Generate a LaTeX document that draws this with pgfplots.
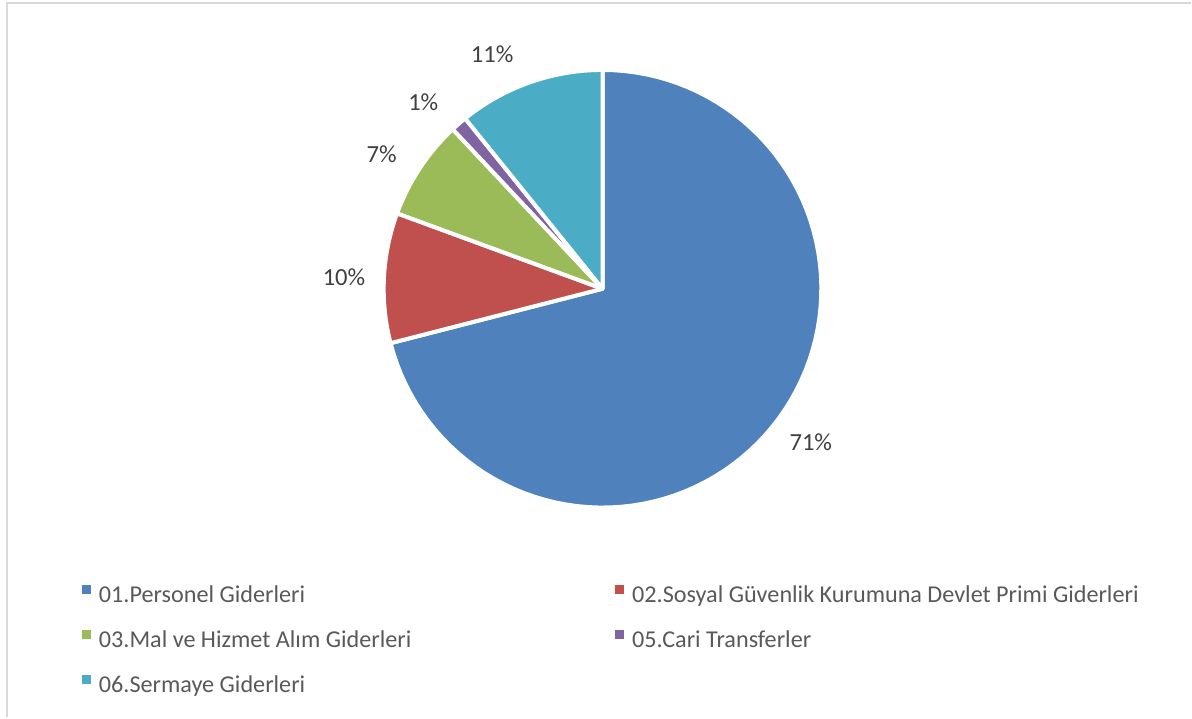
\documentclass[border=0pt]{standalone}
\usepackage{fontspec}
\setmainfont{Carlito}
\usepackage{pgfplots}
\usepackage{pgfplotstable}
\pgfplotsset{compat=1.18}

\definecolor{c1}{HTML}{4F81BD}
\definecolor{c2}{HTML}{C0504D}
\definecolor{c3}{HTML}{9BBB59}
\definecolor{c5}{HTML}{8064A2}
\definecolor{c6}{HTML}{4BACC6}
\definecolor{framegray}{HTML}{D9D9D9}
\definecolor{lbltxt}{HTML}{404040}
\definecolor{legtxt}{HTML}{595959}

% shares in percent, clockwise from 12 o'clock; lshift nudges the label angle
\pgfplotstableread[col sep=semicolon]{
value;color;lshift;label
71.0;c1;1.4;01.Personel Giderleri
9.6;c2;0.3;02.Sosyal Güvenlik Kurumuna Devlet Primi Giderleri
7.4;c3;2.1;03.Mal ve Hizmet Alım Giderleri
1.2;c5;2.8;05.Cari Transferler
10.8;c6;5.8;06.Sermaye Giderleri
}\piedata

\begin{document}
\begin{tikzpicture}
\begin{axis}[
    width=596pt, height=359pt, scale only axis,
    xmin=0, xmax=1192, ymin=0, ymax=718,
    hide axis, clip=false,
    font=\fontsize{12.3}{15}\selectfont,
    legend columns=2,
    legend cell align=left,
    legend image code/.code={\fill[#1,draw=none] (0pt,1.25pt) rectangle (4.5pt,5.75pt);},
    legend style={draw=none, fill=none, at={(0.0688,0.1852)}, anchor=north west,
        inner sep=0pt, outer sep=0pt, row sep=11.5pt, column sep=0pt,
        /tikz/every even column/.append style={column sep=98pt},
        font=\fontsize{12.1}{15}\selectfont, text=legtxt,
        nodes={inner xsep=4pt, inner ysep=0pt,
               text height=8.5pt, text depth=2.5pt}},
  ]
  \draw[draw=none] (axis cs:0,0) rectangle (axis cs:1192,718);
  \draw[framegray, line width=1pt] (axis cs:7,0) -- (axis cs:7,715) -- (axis cs:1192,715);

  \pgfplotstablegetrowsof{\piedata}
  \pgfmathtruncatemacro\lastrow{\pgfplotsretval-1}
  \gdef\startang{90}
  \pgfplotsforeachungrouped \i in {0,...,\lastrow}{%
    \pgfplotstablegetelem{\i}{value}\of\piedata \let\val\pgfplotsretval
    \pgfplotstablegetelem{\i}{color}\of\piedata \let\col\pgfplotsretval
    \pgfplotstablegetelem{\i}{lshift}\of\piedata \let\lsh\pgfplotsretval
    \pgfplotstablegetelem{\i}{label}\of\piedata \let\lab\pgfplotsretval
    \pgfmathsetmacro\endang{\startang-3.6*\val}
    \pgfmathsetmacro\midang{(\startang+\endang)/2+\lsh}
    \pgfmathtruncatemacro\pct{round(\val)}
    \pgfmathsetmacro\lx{603+259*cos(\midang)}
    \pgfmathsetmacro\ly{429+259*sin(\midang)}
    \edef\slice{%
      \noexpand\addplot[fill=\col, draw=white, line width=2pt, line join=round,
          domain=\endang:\startang, samples=90, variable=\noexpand\t]
        ({603+219*cos(\noexpand\t)}, {429+219*sin(\noexpand\t)})
        -- (axis cs:603,429) -- cycle;
      \noexpand\addlegendentry{\lab}
      \noexpand\node[text=lbltxt] at (axis cs:\lx,\ly) {\pct\noexpand\%};
    }\slice
    \xdef\startang{\endang}
  }
\end{axis}
\end{tikzpicture}
\end{document}
